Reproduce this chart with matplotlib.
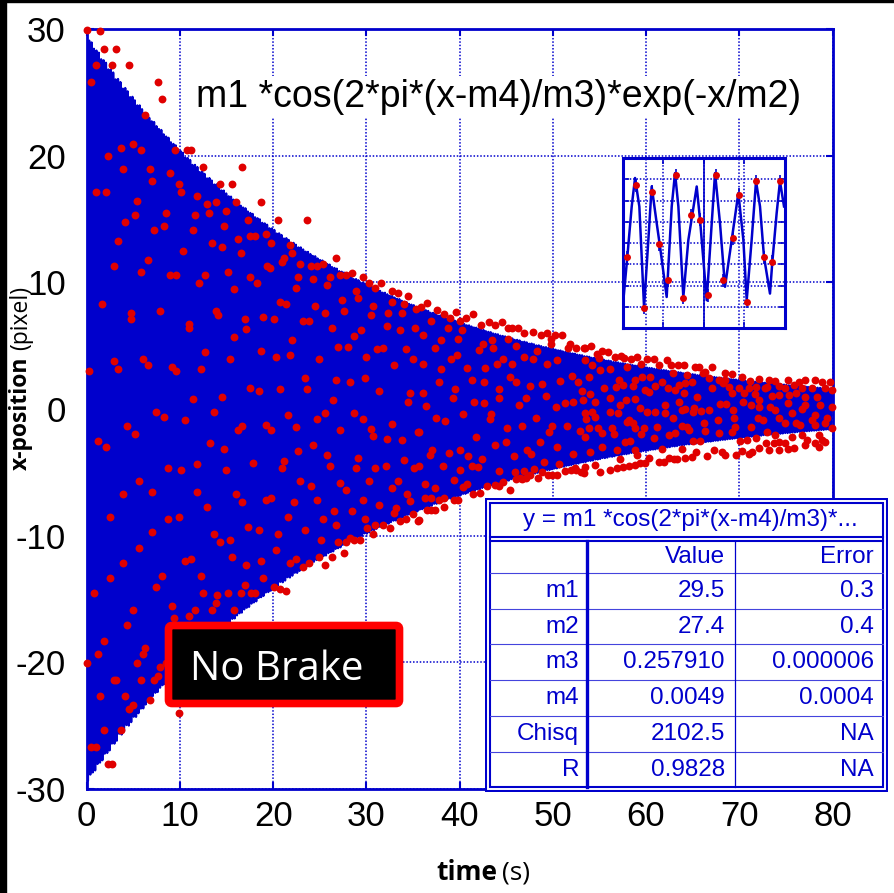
import numpy as np
import matplotlib
matplotlib.use('Agg')
import matplotlib.pyplot as plt
from matplotlib.patches import Rectangle, FancyBboxPatch

plt.rcParams['font.family'] = ['Liberation Sans', 'DejaVu Sans']
plt.rcParams['axes.unicode_minus'] = False

BLUE = '#0000CC'
RED = '#E00000'

# ---------------- data ----------------
# fit parameters (table)
row_names = ['m1', 'm2', 'm3', 'm4', 'Chisq', 'R']
row_values = ['29.5', '27.4', '0.257910', '0.0049', '2102.5', '0.9828']
row_errors = ['0.3', '0.4', '0.000006', '0.0004', 'NA', 'NA']
m1, m2, m3, m4 = 29.5, 27.4, 0.257910, 0.0049

x_ticks = [0, 10, 20, 30, 40, 50, 60, 70, 80]
y_ticks = [-30, -20, -10, 0, 10, 20, 30]

# measured points: time (s)
t_data = [
 0.04, 1.39, 1.82, 3.18, 0.96, 2.71, 4.50, 0.50, 7.61, 8.07, 6.28, 9.43, 10.78, 11.14, 2.29, 3.64, 4.96, 5.86, 12.50, 16.71,
 3.86, 6.75, 8.96, 6.96, 9.86, 14.28, 15.60, 0.96, 2.07, 10.07, 5.39, 11.82, 12.93, 13.82, 16.03, 8.50, 11.61, 13.14, 14.93, 5.14,
 4.07, 17.35, 7.18, 8.28, 11.36, 14.71, 3.39, 16.25, 13.39, 14.50, 10.28, 16.50, 6.53, 2.96, 5.86, 8.96, 9.60, 12.71, 15.14, 17.53,
 12.03, 15.82, 1.64, 4.71, 4.71, 7.86, 13.82, 14.07, 10.93, 10.93, 16.93, 17.14, 15.82, 12.71, 2.96, 3.39, 6.07, 6.53, 0.29, 9.14,
 9.60, 12.28, 15.39, 17.53, 11.36, 14.50, 7.39, 8.28, 10.50, 13.61, 4.29, 5.18, 16.28, 16.71, 1.18, 2.07, 13.18, 14.71, 11.82, 8.71,
 10.07, 14.93, 5.61, 3.86, 6.96, 11.82, 16.03, 16.71, 12.93, 2.53, 8.71, 9.86, 17.35, 6.96, 13.61, 14.28, 15.39, 5.64, 15.60, 10.50,
 11.14, 17.14, 3.86, 2.53, 8.07, 12.28, 7.39, 16.93, 0.75, 12.50, 14.03, 15.14, 16.50, 17.64, 9.18, 13.86, 4.96, 11.61, 13.39, 15.82,
 4.29, 10.93, 9.39, 1.86, 1.18, 6.28, 6.07, 0.07, 5.39, 7.86, 8.50, 7.64, 2.96, 3.18, 5.86, 7.18, 1.43, 4.07, 4.54, 4.96,
 6.75, 9.86, 1.86, 3.64, 0.50, 0.96, 2.29, 2.75,
 18.71, 20.50, 23.61, 26.71, 18.04, 19.18, 19.82, 21.82, 17.50, 21.18, 20.96, 22.93, 24.07, 24.71, 25.39, 27.14, 27.82, 28.46, 29.61, 30.25,
 30.93, 31.61, 32.71, 33.39, 34.50, 18.29, 19.39, 19.61, 22.71, 24.28, 26.07, 25.82, 22.50, 22.07, 27.39, 28.93, 29.14, 30.71, 30.50, 32.28,
 32.71, 34.03, 33.82, 35.36, 35.18, 18.93, 20.07, 20.71, 21.39, 23.18, 23.82, 24.50, 25.61, 26.28, 27.61, 28.71, 29.39, 32.25, 33.61, 18.71,
 20.29, 21.82, 22.07, 26.93, 28.03, 30.00, 31.14, 31.82, 34.28, 34.96, 32.93, 18.50, 20.71, 23.39, 23.61, 24.93, 26.71, 28.25, 29.82, 31.36,
 34.71, 34.50, 26.43, 21.57, 25.61, 24.71, 27.14, 28.68, 29.61, 30.50, 30.71, 32.71, 33.82, 35.53, 19.18, 19.82, 22.50, 24.28, 25.82, 29.14,
 32.25, 34.03, 22.71, 17.86, 21.18, 20.93, 26.07, 28.93, 30.89, 32.07, 35.14, 22.93, 24.07, 27.14, 27.82, 30.25, 32.71, 33.39, 34.39, 19.18,
 19.82, 22.29, 24.71, 29.61, 31.36, 33.18, 34.71, 18.50, 20.50, 21.57, 23.39, 25.39, 26.50, 26.71, 28.46, 29.82, 30.03, 30.93, 31.82, 32.50,
 32.93, 33.61, 34.28, 34.96, 35.53, 25.14, 26.93, 27.82, 28.25, 28.71, 29.36, 30.71, 20.29, 21.82, 22.50, 23.18, 23.82, 24.93, 26.28, 27.61,
 25.61, 18.71, 18.93, 20.07, 20.71, 21.39, 18.04,
 36.50, 35.82, 37.61, 38.29, 39.61, 38.93, 40.07, 40.71, 41.39, 42.29, 43.18, 43.82, 44.50, 45.18, 45.61, 46.28, 46.93, 47.82, 48.71, 49.39,
 50.28, 50.96, 49.82, 49.82, 51.82, 51.61, 52.50, 53.36, 36.93, 38.71, 40.29, 36.04, 38.04, 39.86, 43.43, 45.18, 37.36, 42.07, 42.46, 43.57,
 46.07, 48.28, 46.93, 47.82, 49.39, 50.50, 44.68, 39.11, 36.04, 39.71, 37.75, 37.96, 40.82, 42.68, 43.96, 45.57, 36.04, 41.32, 39.50, 39.32,
 42.64, 44.21, 45.36, 46.03, 47.53, 48.86, 49.28, 50.75, 52.07, 52.71, 53.18, 36.43, 41.50, 42.57, 43.39, 44.18, 46.39, 47.14, 50.32, 51.28,
 52.21, 53.25, 37.50, 38.43, 40.39, 41.75, 43.28, 45.07, 46.68, 48.21, 49.64, 49.96, 51.53, 52.96, 53.61, 35.61, 37.07, 36.86, 38.86, 40.00,
 40.86, 42.39, 43.79, 44.93, 45.79, 47.21, 47.61, 48.64, 49.07, 50.43, 50.71, 52.14, 52.39, 35.64, 38.21, 39.36, 40.04, 41.32, 42.00, 44.25,
 45.93, 46.43, 46.93, 47.53, 47.93, 48.46, 48.89, 49.46, 49.93, 50.43, 51.28, 51.93, 52.46, 53.03, 53.36, 36.29, 37.39, 36.93, 37.79, 38.36,
 36.29, 36.50, 36.93, 37.36, 38.36, 39.36, 39.82, 40.32, 40.82, 41.39, 42.21, 42.96, 43.82, 44.25, 44.64, 45.36, 46.00, 46.68, 47.14, 35.61,
 53.50, 54.14, 55.29, 55.93, 54.71, 56.64, 57.29, 57.68, 58.36, 59.04, 60.14, 60.82, 62.25, 61.39, 62.71, 63.43, 64.04, 65.29, 65.64, 67.07,
 66.36, 66.07, 68.50, 69.21, 70.28, 68.43, 67.86, 71.18, 72.07, 73.14, 73.86, 75.28, 76.36, 77.07, 78.14, 78.86, 79.75, 53.50, 55.00, 54.21,
 56.18, 57.96, 59.50, 53.86, 55.11, 57.07, 58.86, 59.57, 60.39, 61.71, 62.86, 64.39, 63.50, 64.21, 64.93, 66.79, 68.21, 68.93, 69.93, 71.00,
 71.78, 72.96, 74.21, 74.93, 75.82, 76.71, 77.78, 79.21, 79.93, 55.46, 56.82, 57.50, 58.61, 59.93, 61.00, 62.36, 63.07, 64.11, 65.46, 67.07,
 69.21, 70.46, 71.64, 72.78, 73.50, 74.28, 75.36, 76.07, 77.07, 78.32, 78.68, 54.04, 54.57, 56.11, 57.18, 57.86, 58.86, 59.39, 60.29, 62.07,
 63.50, 63.86, 65.11, 65.93, 66.79, 67.96, 68.61, 69.36, 70.36, 71.29, 72.14, 72.07, 73.32, 73.86, 75.18, 75.64, 76.71, 77.07, 78.14, 79.39,
 79.93, 54.21, 54.57, 56.18, 57.00, 58.14, 58.57, 60.14, 61.00, 62.07, 62.86, 64.21, 64.39, 65.04, 66.18, 67.71, 69.39, 69.50, 71.21, 72.00,
 72.57, 74.21, 74.93, 76.07, 76.53, 77.78, 78.14, 79.21, 79.93, 53.50, 53.86, 54.86, 55.29, 56.36, 56.61, 57.71, 58.32, 57.96, 58.86, 59.50,
 59.75, 60.82, 61.18, 62.43, 63.14, 63.86, 64.57, 65.04, 65.82, 66.36, 67.79, 69.21, 70.11, 70.82, 71.78, 72.96, 73.86, 74.21, 74.93, 75.64,
 76.71, 77.25, 78.50, 79.21, 53.50, 54.04, 55.29, 56.89, 57.25, 58.86, 59.04, 60.29, 61.71, 62.43, 62.96, 63.86, 64.14, 64.93, 65.36, 66.54,
 67.25, 68.14, 68.50, 69.64, 70.28, 71.00, 71.36, 72.07, 72.86, 73.21, 73.68, 74.28, 75.28, 75.82, 77.07, 78.14, 78.50, 78.86, 53.50, 54.57,
 55.11, 56.18, 56.89, 57.50, 58.14, 58.79, 59.39, 59.93, 61.36, 61.89, 63.32,
]

# measured points: x-position (pixel)
x_data = [
 29.90, 29.85, 28.45, 28.45, 27.12, 27.12, 27.12, 25.79, 25.79, 24.47, 23.18, 20.48, 20.48, 20.48, 19.98, 20.60, 20.95, 20.44, 19.12, 19.12,
 18.96, 18.96, 18.61, 17.99, 17.79, 17.79, 17.79, 17.13, 17.13, 17.13, 16.46, 16.81, 16.15, 16.31, 16.31, 15.49, 15.29, 15.45, 15.64, 15.29,
 14.79, 14.94, 14.12, 14.47, 14.12, 14.43, 13.30, 13.46, 13.11, 12.80, 12.48, 12.29, 11.78, 11.31, 10.80, 10.61, 10.61, 10.61, 10.80, 10.45,
 9.98, 9.48, 8.27, 7.60, 7.10, 7.76, 7.76, 7.45, 6.75, 6.43, 7.10, 6.28, 5.65, 4.48, 3.82, 3.15, 3.97, 3.47, 3.00, 3.31,
 3.00, 3.16, 3.97, 1.63, 0.77, 0.97, -0.20, -0.67, -0.83, -0.20, -1.37, -2.00, -1.69, -1.37, -2.54, -3.01, -2.70, -3.17, -4.34, -4.65,
 -4.85, -4.85, -5.70, -6.68, -6.52, -6.52, -6.68, -7.34, -7.70, -8.51, -8.71, -8.51, -9.33, -9.69, -9.84, -10.51, -10.35, -11.01, -11.68, -12.03,
 -11.83, -12.34, -12.18, -13.36, -13.20, -13.20, -14.02, -13.86, -14.53, -14.53, -14.68, -14.53, -14.53, -14.53, -15.54, -15.35, -15.85, -15.85, -15.85, -15.85,
 -17.02, -16.36, -16.52, -18.31, -19.37, -18.86, -19.37, -20.03, -20.03, -20.34, -20.03, -21.04, -21.36, -21.36, -21.36, -21.36, -22.64, -22.64, -23.66, -23.35,
 -23.00, -24.01, -25.34, -25.34, -26.66, -26.66, -27.99, -27.99,
 16.31, 14.94, 14.94, 11.94, 13.65, 13.81, 13.11, 12.95, 13.65, 11.94, 11.59, 11.43, 11.27, 11.27, 11.43, 10.61, 10.61, 10.77, 10.45, 9.95,
 9.59, 9.95, 9.28, 9.13, 8.93, 9.95, 11.27, 11.12, 10.45, 10.26, 10.45, 9.79, 9.59, 12.29, 8.62, 9.28, 8.78, 8.11, 7.41, 7.60,
 8.42, 8.27, 7.60, 7.92, 6.43, 7.25, 7.10, 8.42, 8.27, 6.94, 6.94, 8.11, 7.60, 6.43, 7.76, 5.73, 6.24, 6.59, 6.24, 4.60,
 4.09, 4.25, 5.42, 4.91, 4.91, 4.09, 4.75, 4.83, 4.75, 3.93, 3.47, 1.44, 1.59, 2.45, 1.59, 3.93, 2.26, 2.10, 2.45, 1.44,
 1.24, 0.58, 0.74, -0.44, -0.28, -0.75, -1.65, -0.28, -0.75, -1.61, -2.15, -1.22, -2.47, -1.80, -1.26, -1.65, -1.41, -2.82, -3.64, -3.83,
 -2.35, -3.99, -3.32, -4.30, -4.14, -4.69, -4.50, -4.69, -4.69, -4.50, -4.69, -5.67, -6.06, -5.86, -6.37, -5.71, -6.21, -5.71, -6.72, -7.19,
 -7.03, -7.34, -7.19, -7.19, -7.54, -7.81, -7.23, -9.53, -9.84, -8.52, -9.53, -8.71, -8.05, -9.18, -8.05, -8.71, -9.37, -9.18, -9.18, -9.37,
 -8.24, -8.87, -8.71, -8.32, -8.87, -10.35, -10.51, -10.51, -10.19, -10.35, -10.35, -9.84, -11.17, -12.18, -11.83, -12.50, -12.18, -11.68, -11.68, -11.36,
 -12.34, -12.03, -13.35, -14.02, -14.18, -14.37, -14.53,
 8.35, 8.08, 7.78, 7.52, 7.65, 7.22, 6.96, 7.22, 7.52, 6.66, 6.83, 6.66, 6.83, 6.40, 6.40, 6.40, 5.97, 6.10, 5.84, 5.97,
 5.84, 5.84, 5.54, 5.11, 5.11, 4.82, 4.85, 4.85, 6.96, 6.40, 6.23, 5.81, 5.41, 5.54, 5.41, 5.54, 4.82, 4.68, 5.11, 4.82,
 4.98, 4.55, 4.12, 3.96, 3.53, 3.83, 3.96, 3.96, 3.56, 4.26, 2.11, 3.13, 3.27, 3.27, 3.53, 3.56, 1.29, 2.28, 1.55, 0.83,
 2.11, 1.55, 2.54, 2.11, 1.81, 1.95, 0.99, 2.24, 2.57, 2.11, 1.42, 0.26, 0.56, 0.50, -0.36, 0.86, 0.30, 0.83, 0.13, 0.46,
 0.53, 0.69, -0.69, -0.96, -0.40, -2.21, -0.76, -1.52, -1.32, -0.69, -1.85, -1.35, -1.35, -1.75, -0.79, -1.81, -3.20, -3.66, -3.50, -3.20,
 -3.73, -3.92, -2.84, -2.64, -3.73, -3.23, -3.59, -2.57, -4.15, -3.00, -4.35, -3.53, -4.62, -4.52, -4.52, -5.57, -4.78, -4.48, -4.55, -4.91,
 -4.95, -5.44, -4.91, -5.18, -4.75, -5.47, -4.95, -5.18, -5.18, -5.18, -4.91, -4.81, -4.85, -4.95, -5.08, -5.94, -6.27, -6.99, -7.19, -7.02,
 -7.02, -7.95, -8.01, -7.95, -7.72, -7.16, -7.16, -6.13, -5.94, -6.73, -6.66, -6.10, -6.03, -6.07, -5.80, -6.36, -5.54, -5.54, -5.47, -8.80,
 4.79, 4.94, 4.60, 4.52, 4.34, 4.13, 4.21, 4.02, 3.97, 4.13, 3.94, 3.94, 3.86, 3.44, 3.47, 3.47, 3.47, 3.29, 3.29, 3.29,
 2.94, 2.81, 2.81, 2.73, 2.55, 2.28, 2.28, 2.21, 2.36, 2.28, 2.23, 2.31, 2.13, 2.28, 2.28, 2.15, 2.15, 3.86, 4.00, 3.47,
 3.15, 3.34, 3.55, 2.55, 3.07, 2.26, 2.28, 2.50, 2.55, 2.10, 2.81, 2.68, 1.89, 2.02, 2.15, 2.42, 2.02, 1.71, 1.68, 1.68,
 1.71, 1.71, 1.81, 1.68, 1.89, 1.68, 1.68, 1.63, 1.50, 1.65, 1.71, 1.92, 1.81, 1.50, 1.81, 1.68, 1.52, 1.23, 0.97, 1.63,
 1.29, 1.23, 1.18, 1.63, 1.02, 1.10, 1.10, 1.23, 0.97, 0.97, 0.28, 1.15, 0.57, 0.89, 0.31, 0.71, 0.79, 0.10, 1.31, 0.31,
 0.57, -0.08, 0.05, -0.19, -0.08, 0.39, 0.39, -0.08, 0.57, 0.31, 0.71, 0.18, 0.18, -0.08, 0.44, -0.35, 0.00, 0.31, -0.48, -0.74,
 0.18, -0.27, -0.61, -0.22, -0.35, -0.87, -1.14, -0.27, -0.22, -0.35, -0.74, -0.03, -1.40, -0.22, -1.14, -0.87, -0.74, -1.40, -1.45, -0.74,
 -0.87, -0.74, -1.14, -1.14, -1.27, -0.87, -1.27, -1.14, -1.53, -0.35, -1.53, -1.53, -1.93, -1.53, -1.98, -2.58, -2.50, -1.01, -1.53, -1.98,
 -1.53, -2.32, -1.40, -2.06, -1.93, -1.35, -1.66, -2.50, -2.50, -1.74, -1.93, -1.79, -2.50, -2.45, -2.32, -1.79, -2.06, -2.58, -2.66, -2.19,
 -2.06, -2.45, -2.06, -2.58, -2.19, -3.37, -2.98, -3.24, -3.95, -3.24, -3.61, -3.90, -3.19, -3.90, -3.98, -3.19, -3.85, -3.77, -3.37, -3.69,
 -3.24, -3.37, -3.64, -3.64, -3.29, -3.56, -3.37, -3.11, -2.71, -3.24, -2.71, -3.24, -3.19, -3.11, -2.85, -2.71, -2.98, -2.45, -4.56, -4.43,
 -4.98, -4.82, -4.69, -4.56, -4.51, -4.40, -4.29, -4.29, -4.16, -4.16, -3.98,
]

# inset: zoom on the first 2 s
inset_curve_t = [0.008, 0.057, 0.111, 0.152, 0.205, 0.263, 0.316, 0.357, 0.419, 0.460, 0.542, 0.604, 0.645, 0.686,
                 0.747, 0.809, 0.912, 0.953, 1.035, 1.097, 1.138, 1.199, 1.261, 1.343, 1.425, 1.487, 1.528, 1.589,
                 1.643, 1.692, 1.741, 1.815, 1.844, 1.897, 1.938, 1.988]
inset_curve_x = [-26.9, -6.5, 17.2, 30.6, 17.2, -30.1, 1.4, 26.6, 9.3, -1.7, -25.4, 17.2, 32.9, 17.2,
                 -25.4, 1.4, 26.6, 10.9, -26.9, 9.3, 32.9, 9.3, -20.6, 1.4, 23.5, 1.4, -26.9, 1.4,
                 29.0, 17.2, -6.5, -23.8, -8.8, 14.0, 29.0, 17.2]
inset_pt_t = [0.057, 0.160, 0.259, 0.366, 0.452, 0.563, 0.661, 0.747, 0.846, 0.949,
              1.051, 1.154, 1.232, 1.355, 1.433, 1.536, 1.639, 1.737, 1.840, 1.943]
inset_pt_x = [-6.8, 27.1, -30.6, 24.1, -0.6, -17.6, 32.0, -25.7, 13.1, 11.0,
              -24.7, 32.0, -17.6, 2.2, 22.7, -27.7, 29.1, -6.8, -8.8, 29.1]
inset_pt_err = [3.0] * 20

# ---------------- figure ----------------
W, H = 894, 893
fig = plt.figure(figsize=(W / 100, H / 100), dpi=100)

def fx(px):
    return px / W

def fy(py):
    return 1 - py / H

ax = fig.add_axes([fx(86.7), fy(789), (832.5 - 86.7) / W, 760 / H])
ax.set_xlim(0, 80)
ax.set_ylim(-30, 30)
ax.set_xticks(x_ticks)
ax.set_yticks(y_ticks)
ax.set_axisbelow(True)
ax.grid(True, color=BLUE, linestyle=(0, (1, 1.2)), linewidth=1.1)

t_fit = np.linspace(0, 80, 6001)
y_fit = m1 * np.cos(2 * np.pi * (t_fit - m4) / m3) * np.exp(-t_fit / m2)
ax.plot(t_fit, y_fit, color=BLUE, lw=1.6, zorder=2)
ax.scatter(t_data, x_data, s=32, color=RED, linewidths=0, zorder=3, clip_on=False)

for sp in ax.spines.values():
    sp.set_color(BLUE)
    sp.set_linewidth(2)
ax.tick_params(direction='in', length=5, width=1.5, color=BLUE, top=True, right=True,
               labelsize=25, labelcolor='black')
ax.tick_params(axis='x', pad=8)
ax.tick_params(axis='y', pad=15)

ax.text(0.552, 0.9105, 'm1 *cos(2*pi*(x-m4)/m3)*exp(-x/m2)', transform=ax.transAxes,
        ha='center', va='center', fontsize=27, color='black',
        bbox=dict(fc='white', ec='none', pad=2), zorder=5)

# axis labels (bold part + regular part)
fig.text(fx(497), fy(880), 'time', fontsize=19, fontweight='bold', family='Open Sans',
         ha='right', va='baseline')
fig.text(fx(502), fy(880), '(s)', fontsize=19, family='Open Sans', ha='left', va='baseline')
fig.text(fx(21), fy(356), 'x-position', fontsize=16.5, fontweight='bold', family='Open Sans',
         rotation=90, ha='center', va='top')
fig.text(fx(21), fy(350), '(pixel)', fontsize=16.5, family='Open Sans',
         rotation=90, ha='center', va='bottom')

# "No Brake" label
fig.add_artist(FancyBboxPatch((fx(168.5), fy(703.5)), 231 / W, 78 / H,
                              boxstyle='round,pad=0,rounding_size=0.004',
                              transform=fig.transFigure, facecolor='black',
                              edgecolor='#FF0000', linewidth=5.5, zorder=6))
fig.text(fx(190), fy(680), 'No Brake', fontsize=29, family='Open Sans', color='white',
         ha='left', va='baseline', zorder=7)

# black frame edges of the screenshot
fig.add_artist(Rectangle((0, 0), 6 / W, 1, transform=fig.transFigure, color='black', zorder=8))
fig.add_artist(Rectangle((0, 1 - 1.5 / H), 1, 1.5 / H, transform=fig.transFigure, color='black', zorder=8))

# ---------------- inset ----------------
axi = fig.add_axes([fx(622.7), fy(328), 162.3 / W, 170 / H], zorder=3)
axi.set_facecolor('none')
axi.set_xlim(0, 2)
axi.set_ylim(-40, 40)
axi.set_xticks([0.5, 1.0, 1.5])
axi.set_yticks([-30, -20, -10, 0, 10, 20, 30])
axi.grid(True, color=BLUE, linestyle=(0, (1, 1.2)), linewidth=1.1)
axi.axvline(1.0, color=BLUE, lw=1.2)
axi.tick_params(direction='in', length=4, width=1.2, color=BLUE, labelleft=False,
                labelbottom=False, top=True, right=True)
for sp in axi.spines.values():
    sp.set_color(BLUE)
    sp.set_linewidth(2.2)
axi.plot(inset_curve_t, inset_curve_x, color=BLUE, lw=1.8)
axi.errorbar(inset_pt_t, inset_pt_x, yerr=inset_pt_err, fmt='o', color=RED, ms=5,
             ecolor=BLUE, elinewidth=1.2, capsize=2.5, mew=0, zorder=4)

# ---------------- fit table ----------------
axt = fig.add_axes([fx(485), fy(791.7), 403 / W, 294 / H], zorder=4)
axt.set_xlim(0, 403)
axt.set_ylim(294, 0)
axt.axis('off')
axt.add_patch(Rectangle((1, 1), 401, 292, facecolor='white', edgecolor=BLUE, lw=1.5))
axt.add_patch(Rectangle((5, 5), 393, 284, facecolor='none', edgecolor=BLUE, lw=1.5))
for yy in (39.5, 43):
    axt.plot([5, 398], [yy, yy], color=BLUE, lw=1.5)
for yy in (75.6, 111.3, 146.6, 182.3, 218, 254):
    axt.plot([5, 398], [yy, yy], color='#4444DD', lw=0.8)
axt.plot([102.3, 102.3], [43, 289], color=BLUE, lw=2.4)
axt.plot([250, 250], [43, 289], color=BLUE, lw=0.9)

tcol = BLUE
tfs = 17.5
axt.text(205, 22, 'y = m1 *cos(2*pi*(x-m4)/m3)*...', ha='center', va='center', fontsize=tfs, color=tcol)
axt.text(240, 59.5, 'Value', ha='right', va='center', fontsize=tfs, color=tcol)
axt.text(389, 59.5, 'Error', ha='right', va='center', fontsize=tfs, color=tcol)
row_centers = [93.5, 129, 164.5, 200, 236, 272]
for yc, nm, vv, ee in zip(row_centers, row_names, row_values, row_errors):
    axt.text(94, yc, nm, ha='right', va='center', fontsize=tfs, color=tcol)
    axt.text(240, yc, vv, ha='right', va='center', fontsize=tfs, color=tcol)
    axt.text(389, yc, ee, ha='right', va='center', fontsize=tfs, color=tcol)

fig.savefig('out.png', dpi=100, facecolor='white')
